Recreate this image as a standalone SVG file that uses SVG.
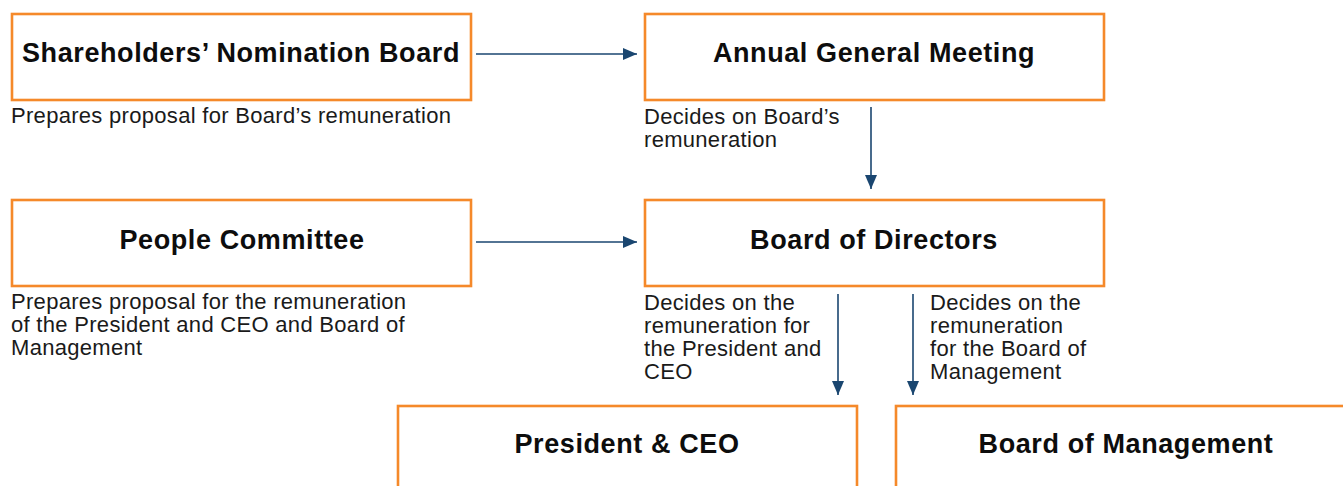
<svg xmlns="http://www.w3.org/2000/svg" width="1343" height="486" viewBox="0 0 1343 486">
<style>
.box{fill:#ffffff;stroke:#F5892A;stroke-width:2.6}
.title{font-family:"Liberation Sans",Arial,sans-serif;font-weight:bold;font-size:27px;letter-spacing:0.6px;fill:#0d0d0d;text-anchor:middle}
.desc{font-family:"Liberation Sans",Arial,sans-serif;font-size:22px;letter-spacing:0.3px;fill:#1a1a1a}
.conn{stroke:#1A4670;stroke-width:1.6;fill:none}
</style>
<defs>
<marker id="ahd" viewBox="0 0 14 12" refX="14" refY="6" markerWidth="14" markerHeight="12" orient="auto" markerUnits="userSpaceOnUse">
<path d="M0,0 L14,6 L0,12 z" fill="#1A4670"/>
</marker>
</defs>
<rect width="1343" height="486" fill="#ffffff"/>
<g id="connectors">
<line class="conn" x1="476" y1="54" x2="637" y2="54" marker-end="url(#ahd)"/>
<line class="conn" x1="476" y1="242" x2="637" y2="242" marker-end="url(#ahd)"/>
<line class="conn" x1="871" y1="107" x2="871" y2="189" marker-end="url(#ahd)"/>
<line class="conn" x1="838" y1="294" x2="838" y2="395" marker-end="url(#ahd)"/>
<line class="conn" x1="913" y1="294" x2="913" y2="395" marker-end="url(#ahd)"/>
</g>
<g id="shareholders-nomination-board">
<rect class="box" x="12" y="14" width="459" height="86"/>
<text class="title" x="241" y="62">Shareholders’ Nomination Board</text>
<text class="desc" x="11" y="123">Prepares proposal for Board’s remuneration</text>
</g>
<g id="annual-general-meeting">
<rect class="box" x="645" y="14" width="459" height="86"/>
<text class="title" x="874" y="62">Annual General Meeting</text>
<text class="desc" x="644" y="124">Decides on Board’s</text>
<text class="desc" x="644" y="147">remuneration</text>
</g>
<g id="people-committee">
<rect class="box" x="12" y="200" width="459" height="86"/>
<text class="title" x="242" y="249">People Committee</text>
<text class="desc" x="11" y="309">Prepares proposal for the remuneration</text>
<text class="desc" x="11" y="332">of the President and CEO and Board of</text>
<text class="desc" x="11" y="355">Management</text>
</g>
<g id="board-of-directors">
<rect class="box" x="645" y="200" width="459" height="86"/>
<text class="title" x="874" y="249">Board of Directors</text>
<text class="desc" x="644" y="310">Decides on the</text>
<text class="desc" x="644" y="333">remuneration for</text>
<text class="desc" x="644" y="356">the President and</text>
<text class="desc" x="644" y="379">CEO</text>
<text class="desc" x="930" y="310">Decides on the</text>
<text class="desc" x="930" y="333">remuneration</text>
<text class="desc" x="930" y="356">for the Board of</text>
<text class="desc" x="930" y="379">Management</text>
</g>
<g id="president-ceo">
<rect class="box" x="398" y="406" width="459" height="100"/>
<text class="title" x="627" y="453">President &amp; CEO</text>
</g>
<g id="board-of-management">
<rect class="box" x="896" y="406" width="470" height="100"/>
<text class="title" x="1126" y="453">Board of Management</text>
</g>
</svg>
